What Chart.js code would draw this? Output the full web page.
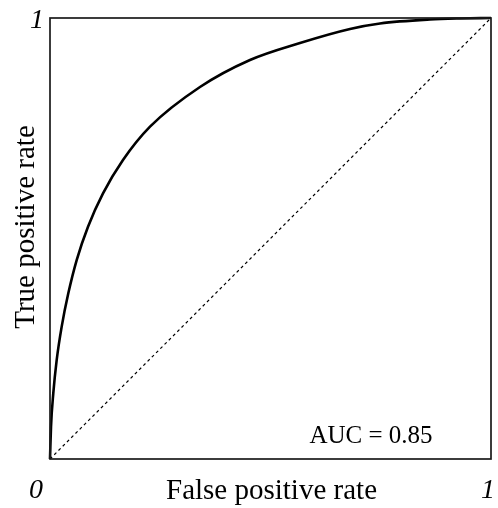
<!DOCTYPE html>
<html>
<head>
<meta charset="utf-8">
<script src="https://cdn.jsdelivr.net/npm/chart.js@4/dist/chart.umd.min.js"></script>
<style>
html,body{margin:0;padding:0;background:#fff;}
#wrap{width:498px;height:508px;}
</style>
</head>
<body>
<div id="wrap"><canvas id="c" width="498" height="508"></canvas></div>
<script>
const fpr = [0, 0.0023, 0.0075, 0.0152, 0.0265, 0.0415, 0.0605, 0.0862, 0.1202, 0.1655, 0.2268, 0.3401, 0.4535, 0.5669, 0.6803, 0.7483, 0.8617, 0.9297, 1];
const tpr = [0, 0.0735, 0.1492, 0.2247, 0.3002, 0.3757, 0.4512, 0.5268, 0.6023, 0.6779, 0.7535, 0.8435, 0.9048, 0.9433, 0.9751, 0.9875, 0.9966, 0.9989, 1];
const chanceX = [0, 1];
const chanceY = [0, 1];
const xTickLabels = ['0', '1'];
const yTickLabels = ['1'];
const xTitle = 'False positive rate';
const yTitle = 'True positive rate';
const aucText = 'AUC = 0.85';

const serif = '"Liberation Serif", "Times New Roman", serif';

const deco = {
  id: 'deco',
  afterDraw(chart) {
    const {ctx, chartArea: a, scales} = chart;
    const xs = scales.x, ys = scales.y;
    ctx.save();
    // frame
    ctx.strokeStyle = '#1a1a1a';
    ctx.lineWidth = 1.7;
    ctx.strokeRect(a.left, a.top, a.right - a.left, a.bottom - a.top);
    ctx.fillStyle = '#000';
    ctx.textAlign = 'center';
    ctx.textBaseline = 'alphabetic';
    // tick labels
    ctx.font = 'italic 28px ' + serif;
    ctx.fillText(xTickLabels[0], xs.getPixelForValue(0) - 14, a.bottom + 39);
    ctx.fillText(xTickLabels[1], xs.getPixelForValue(1) - 3, a.bottom + 39);
    ctx.fillText(yTickLabels[0], a.left - 13, ys.getPixelForValue(1) + 10);
    // titles
    ctx.font = '29px ' + serif;
    ctx.fillText(xTitle, (a.left + a.right) / 2 + 1, a.bottom + 40);
    ctx.save();
    ctx.translate(a.left - 16, (a.top + a.bottom) / 2 - 11.5);
    ctx.rotate(-Math.PI / 2);
    ctx.fillText(yTitle, 0, 0);
    ctx.restore();
    // AUC
    ctx.font = '25px ' + serif;
    ctx.fillText(aucText, xs.getPixelForValue(0.728), ys.getPixelForValue(0.036));
    ctx.restore();
  }
};

new Chart(document.getElementById('c'), {
  type: 'line',
  data: {
    datasets: [
      {
        data: fpr.map((v, i) => ({x: v, y: tpr[i]})),
        borderColor: '#000',
        borderWidth: 2.6,
        pointRadius: 0,
        cubicInterpolationMode: 'monotone',
        fill: false
      },
      {
        data: chanceX.map((v, i) => ({x: v, y: chanceY[i]})),
        borderColor: '#000',
        borderWidth: 1.2,
        borderDash: [3, 3],
        pointRadius: 0,
        tension: 0,
        fill: false
      }
    ]
  },
  options: {
    responsive: false,
    animation: false,
    clip: false,
    layout: {padding: {left: 50, right: 7, top: 18, bottom: 49}},
    plugins: {legend: {display: false}, tooltip: {enabled: false}},
    scales: {
      x: {type: 'linear', min: 0, max: 1, display: false},
      y: {type: 'linear', min: 0, max: 1, display: false}
    }
  },
  plugins: [deco]
});
</script>
</body>
</html>
